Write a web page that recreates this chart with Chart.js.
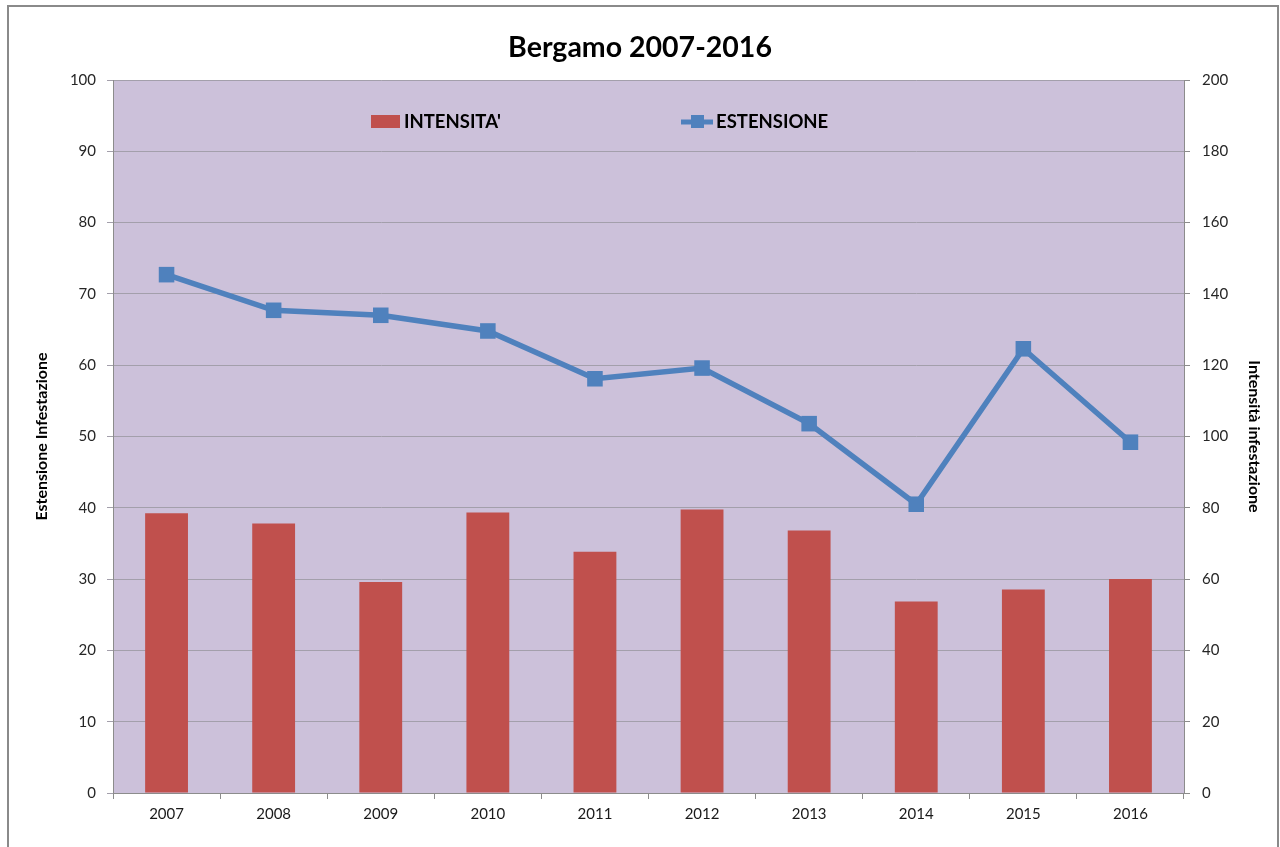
<!DOCTYPE html>
<html>
<head>
<meta charset="utf-8">
<script src="https://cdn.jsdelivr.net/npm/chart.js@4.4.0/dist/chart.umd.min.js"></script>
<style>
html, body { margin: 0; padding: 0; background: #fff; overflow: hidden; }
#wrap { width: 1280px; height: 847px; }
</style>
</head>
<body>
<div id="wrap"><canvas id="grafico" width="1280" height="847"></canvas></div>
<script>
var anni = ['2007', '2008', '2009', '2010', '2011', '2012', '2013', '2014', '2015', '2016'];
var intensita = [78.5, 75.6, 59.2, 78.7, 67.7, 79.5, 73.6, 53.7, 57.1, 60.0];
var estensione = [72.7, 67.7, 67.0, 64.8, 58.1, 59.6, 51.8, 40.5, 62.3, 49.2];
var asseSx = { min: 0, max: 100, passo: 10 };
var asseDx = { min: 0, max: 200, passo: 20 };

var ROSSO = '#c0504d';
var BLU = '#4f81bd';
var FONT = 'Lato, "Open Sans", sans-serif';

// sfondo dell'area del grafico e cornice esterna
var sfondo = {
    id: 'sfondo',
    beforeDraw: function (chart) {
        var ctx = chart.ctx, a = chart.chartArea;
        ctx.save();
        ctx.fillStyle = '#fff';
        ctx.fillRect(0, 0, chart.width, chart.height);
        ctx.fillStyle = '#ccc1da';
        ctx.fillRect(a.left, a.top, a.right - a.left, a.bottom - a.top);
        ctx.strokeStyle = '#8a8a8a';
        ctx.lineWidth = 2;
        ctx.strokeRect(8, 6, 1270, 900);
        ctx.restore();
    }
};

// legenda dentro l'area del grafico, come nel foglio excel
var legenda = {
    id: 'legenda',
    afterDraw: function (chart) {
        var ctx = chart.ctx, a = chart.chartArea;
        var y = a.top + 42;
        var x1 = a.left + 258;
        var x2 = a.left + 568;
        ctx.save();
        ctx.font = 'bold 18.5px ' + FONT;
        ctx.textBaseline = 'middle';
        ctx.fillStyle = ROSSO;
        ctx.fillRect(x1, y - 7, 29, 13);
        ctx.fillStyle = '#000';
        ctx.fillText(chart.data.datasets[0].label, x1 + 33, y);
        ctx.fillStyle = BLU;
        ctx.fillRect(x2, y - 2.5, 32, 5);
        ctx.fillRect(x2 + 10, y - 7, 13, 13);
        ctx.fillStyle = '#000';
        ctx.fillText(chart.data.datasets[1].label, x2 + 35, y);
        ctx.restore();
    }
};

new Chart(document.getElementById('grafico').getContext('2d'), {
    type: 'bar',
    data: {
        labels: anni,
        datasets: [{
            type: 'bar',
            label: "INTENSITA'",
            data: intensita,
            yAxisID: 'y1',
            backgroundColor: ROSSO,
            barPercentage: 0.4,
            categoryPercentage: 1
        }, {
            type: 'line',
            label: 'ESTENSIONE',
            data: estensione,
            yAxisID: 'y',
            borderColor: BLU,
            borderWidth: 5.5,
            pointStyle: 'rect',
            pointRadius: 11,
            pointBackgroundColor: BLU,
            pointBorderWidth: 0,
            tension: 0
        }]
    },
    options: {
        responsive: false,
        animation: false,
        events: [],
        layout: { padding: 0 },
        plugins: {
            legend: { display: false },
            tooltip: { enabled: false },
            title: {
                display: true,
                text: 'Bergamo 2007-2016',
                color: '#000',
                font: { family: FONT, size: 28.5, weight: 'bold' },
                padding: { top: 31, bottom: 14.8 }
            }
        },
        scales: {
            x: {
                offset: true,
                grid: { drawOnChartArea: false, offset: true, tickLength: 6, color: '#8c8c8c' },
                border: { color: '#8c8c8c' },
                ticks: { color: '#1a1a1a', font: { family: FONT, size: 15 }, padding: 6 },
                afterFit: function (s) { s.height = 54; }
            },
            y: {
                position: 'left',
                min: asseSx.min,
                max: asseSx.max,
                ticks: { stepSize: asseSx.passo, color: '#262626', font: { family: FONT, size: 15 }, padding: 11 },
                grid: { color: '#a39fab', tickLength: 6 },
                border: { color: '#8c8c8c' },
                title: {
                    display: true,
                    text: 'Estensione Infestazione',
                    color: '#000',
                    font: { family: FONT, size: 16, weight: 'bold' },
                    padding: { top: 32.4, bottom: 0 }
                },
                afterFit: function (s) { s.width = 113; }
            },
            y1: {
                position: 'right',
                min: asseDx.min,
                max: asseDx.max,
                ticks: { stepSize: asseDx.passo, color: '#262626', font: { family: FONT, size: 15 }, padding: 12 },
                grid: { drawOnChartArea: false, color: '#8c8c8c', tickLength: 6 },
                border: { color: '#8c8c8c' },
                title: {
                    display: true,
                    text: 'Intensità infestazione',
                    color: '#000',
                    font: { family: FONT, size: 16, weight: 'bold' },
                    padding: { top: 16.4, bottom: 0 }
                },
                afterFit: function (s) { s.width = 96; }
            }
        }
    },
    plugins: [sfondo, legenda]
});
</script>
</body>
</html>
